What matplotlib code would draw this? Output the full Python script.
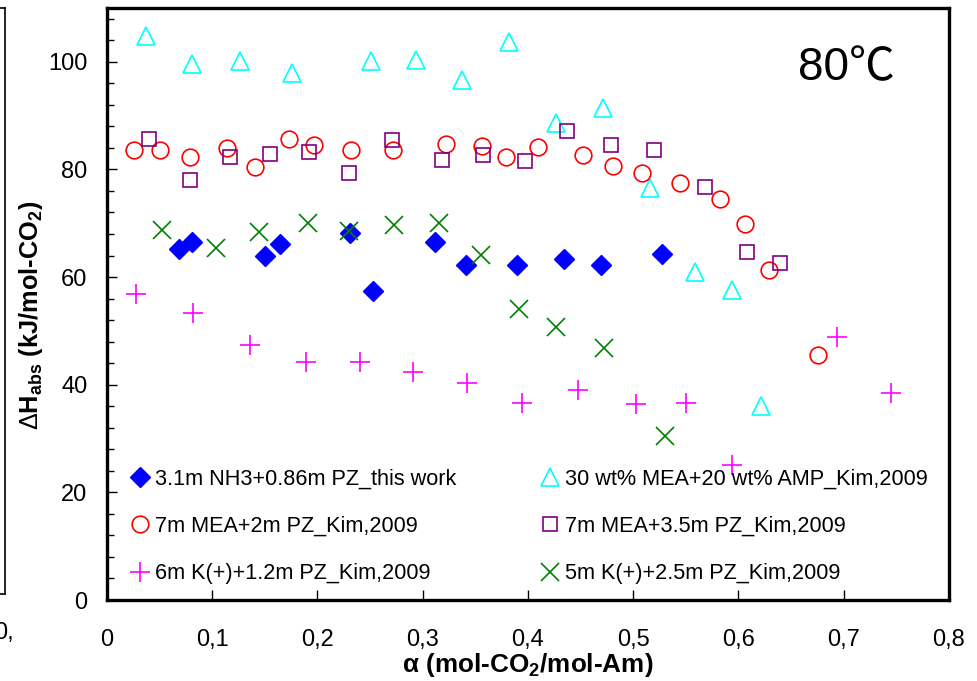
import matplotlib
matplotlib.use('Agg')
import matplotlib.pyplot as plt
from matplotlib.lines import Line2D

plt.rcParams['font.family'] = ['Liberation Sans', 'DejaVu Sans']
plt.rcParams['mathtext.fontset'] = 'custom'
plt.rcParams['mathtext.rm'] = 'Liberation Sans'
plt.rcParams['mathtext.bf'] = 'Liberation Sans:bold'

# 3.1m NH3+0.86m PZ (this work)
nh3_x = [0.068, 0.081, 0.150, 0.164, 0.231, 0.253, 0.312, 0.341, 0.390, 0.434, 0.469, 0.527]
nh3_y = [65.2, 66.5, 63.9, 66.2, 68.2, 57.5, 66.5, 62.2, 62.2, 63.3, 62.2, 64.2]

# 30 wt% MEA+20 wt% AMP
amp_x = [0.037, 0.081, 0.126, 0.176, 0.251, 0.294, 0.337, 0.382, 0.427, 0.471, 0.516, 0.559, 0.594, 0.621]
amp_y = [104.7, 99.6, 100.2, 97.9, 100.1, 100.4, 96.7, 103.7, 88.7, 91.5, 76.5, 60.9, 57.6, 36.1]

# 7m MEA+2m PZ
mea2_x = [0.026, 0.050, 0.079, 0.114, 0.141, 0.173, 0.197, 0.232, 0.272, 0.322, 0.356,
          0.379, 0.410, 0.452, 0.481, 0.508, 0.544, 0.582, 0.606, 0.629, 0.676]
mea2_y = [83.6, 83.6, 82.4, 84.0, 80.4, 85.7, 84.6, 83.6, 83.6, 84.8, 84.3,
          82.4, 84.1, 82.7, 80.6, 79.4, 77.4, 74.6, 69.8, 61.3, 45.5]

# 7m MEA+3.5m PZ
mea35_x = [0.040, 0.079, 0.117, 0.155, 0.192, 0.230, 0.271, 0.318, 0.357,
           0.397, 0.437, 0.479, 0.520, 0.568, 0.608, 0.639]
mea35_y = [85.6, 78.1, 82.4, 82.8, 83.3, 79.4, 85.4, 81.8, 82.7,
           81.6, 87.2, 84.6, 83.6, 76.8, 64.6, 62.6]

# 6m K(+)+1.2m PZ
k12_x = [0.028, 0.082, 0.136, 0.189, 0.240, 0.291, 0.342, 0.394, 0.448, 0.503, 0.550, 0.594, 0.694, 0.745]
k12_y = [56.9, 53.4, 47.3, 44.3, 44.3, 42.4, 40.3, 36.6, 39.0, 36.4, 36.6, 25.0, 48.9, 38.4]

# 5m K(+)+2.5m PZ
k25_x = [0.052, 0.104, 0.144, 0.191, 0.230, 0.273, 0.315, 0.355, 0.391, 0.427, 0.472, 0.530]
k25_y = [68.8, 65.4, 68.3, 70.1, 68.6, 69.7, 70.0, 64.1, 54.0, 50.7, 46.9, 30.5]

xticks = [0, 0.1, 0.2, 0.3, 0.4, 0.5, 0.6, 0.7, 0.8]
xtick_labels = ['0', '0,1', '0,2', '0,3', '0,4', '0,5', '0,6', '0,7', '0,8']
yticks = [0, 20, 40, 60, 80, 100]

fig = plt.figure(figsize=(9.78, 6.81), dpi=100)
ax = fig.add_axes([0.1094, 0.1189, 0.8609, 0.8694])

h1, = ax.plot(nh3_x, nh3_y, 'D', color='#0000FF', ms=10, ls='none',
              label='3.1m NH3+0.86m PZ_this work')
h4, = ax.plot(amp_x, amp_y, '^', mfc='none', mec='#00FFFF', ms=13, mew=1.2, ls='none',
              label='30 wt% MEA+20 wt% AMP_Kim,2009')
h2, = ax.plot(mea2_x, mea2_y, 'o', mfc='none', mec='#FF0000', ms=12, mew=1.2, ls='none',
              label='7m MEA+2m PZ_Kim,2009')
h5, = ax.plot(mea35_x, mea35_y, 's', mfc='none', mec='#800080', ms=10, mew=1.2, ls='none',
              label='7m MEA+3.5m PZ_Kim,2009')
h3, = ax.plot(k12_x, k12_y, '+', color='#FF00FF', ms=14, mew=1.2, ls='none',
              label='6m K(+)+1.2m PZ_Kim,2009')
h6, = ax.plot(k25_x, k25_y, 'x', color='#008000', ms=13, mew=1.2, ls='none',
              label='5m K(+)+2.5m PZ_Kim,2009')

ax.set_xlim(0, 0.8)
ax.set_ylim(0, 110)
ax.set_xticks(xticks)
ax.set_xticklabels(xtick_labels)
ax.set_yticks(yticks)
ax.set_yticks([v for v in range(0, 110, 4) if v % 20 != 0], minor=True)
ax.tick_params(axis='both', which='major', direction='in', length=7, width=1,
               labelsize=17)
ax.tick_params(axis='x', which='major', pad=21)
ax.tick_params(axis='y', which='major', pad=14)
ax.tick_params(axis='y', which='minor', direction='in', length=5, width=1)
for s in ax.spines.values():
    s.set_linewidth(2.4)

ax.set_xlabel(r'α (mol-CO$_\mathbf{2}$/mol-Am)', fontsize=18.8, fontweight='bold', labelpad=0)
ax.set_ylabel(r'$\mathrm{\Delta}$H$_\mathbf{abs}$ (kJ/mol-CO$_\mathbf{2}$)', fontsize=18.3,
              fontweight='bold')
ax.yaxis.set_label_coords(-0.074, 0.48)

ax.text(0.878, 0.898, '80℃', transform=ax.transAxes, fontsize=33, ha='center', va='center',
        family=['Liberation Sans', 'Noto Sans CJK SC', 'DejaVu Sans'])

leg = ax.legend(handles=[h1, h2, h3, h4, h5, h6], ncol=2, loc='lower left',
                bbox_to_anchor=(0.013, 0.0), frameon=False, fontsize=15.6,
                handlelength=0.6, handletextpad=0.4, columnspacing=4.0,
                labelspacing=1.22, borderaxespad=0.32)

# leftover frame edge from the neighbouring panel
fig.add_artist(Line2D([4.5 / 978, 4.5 / 978], [1 - 8 / 681, 1 - 594 / 681],
                      transform=fig.transFigure, color='black', lw=1.2))
fig.add_artist(Line2D([0, 4.5 / 978], [1 - 8 / 681, 1 - 8 / 681],
                      transform=fig.transFigure, color='black', lw=1.2))
fig.add_artist(Line2D([0, 4.5 / 978], [1 - 594 / 681, 1 - 594 / 681],
                      transform=fig.transFigure, color='black', lw=1.2))
fig.text(-0.006, 1 - 633 / 681, '0,', fontsize=17, va='center', ha='left')

fig.savefig('out.png', dpi=100)
